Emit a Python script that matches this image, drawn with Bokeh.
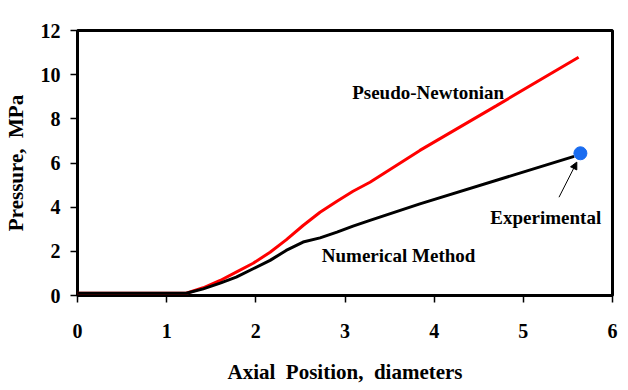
from bokeh.plotting import figure
from bokeh.models import Range1d, FixedTicker, Arrow, NormalHead, Label
from bokeh.embed import file_html
from bokeh.resources import INLINE

# Pseudo-Newtonian (red)
pn_x = [0.0, 1.22, 1.41, 1.60, 1.78, 1.97, 2.16, 2.34, 2.53, 2.72, 2.91, 3.09, 3.28, 3.84, 4.70, 5.62]
pn_y = [0.10, 0.10, 0.35, 0.68, 1.06, 1.46, 1.96, 2.52, 3.17, 3.77, 4.27, 4.72, 5.13, 6.57, 8.60, 10.79]

# Numerical method (black)
nm_x = [0.0, 1.22, 1.41, 1.60, 1.78, 1.97, 2.16, 2.34, 2.53, 2.72, 2.91, 3.09, 3.28, 3.84, 5.57]
nm_y = [0.10, 0.10, 0.30, 0.56, 0.83, 1.21, 1.59, 2.04, 2.42, 2.61, 2.87, 3.14, 3.40, 4.15, 6.30]

# Experimental point
ex_x = [5.64]
ex_y = [6.44]

x_ticks = [0, 1, 2, 3, 4, 5, 6]
y_ticks = [0, 2, 4, 6, 8, 10, 12]

FONT = "Liberation Serif"
NB = "\u00a0"

p = figure(width=620, height=386, output_backend="svg", toolbar_location=None,
           x_range=Range1d(0, 6), y_range=Range1d(0, 12),
           min_border_left=0, min_border_right=8, min_border_top=30, min_border_bottom=0)

p.xgrid.visible = False
p.ygrid.visible = False
p.outline_line_color = "black"
p.outline_line_width = 3
p.outline_line_alpha = 1

p.xaxis.ticker = FixedTicker(ticks=x_ticks)
p.yaxis.ticker = FixedTicker(ticks=y_ticks)
for ax in (p.xaxis, p.yaxis):
    ax.axis_line_color = None
    ax.major_tick_line_color = "black"
    ax.major_tick_line_width = 1.5
    ax.major_tick_out = 7
    ax.major_tick_in = 0
    ax.minor_tick_line_color = None
    ax.major_label_text_font = FONT
    ax.major_label_text_font_style = "bold"
    ax.major_label_text_font_size = "20px"
    ax.major_label_text_color = "black"
    ax.axis_label_text_font = FONT
    ax.axis_label_text_font_style = "bold"
    ax.axis_label_text_font_size = "21px"
    ax.axis_label_text_color = "black"

p.xaxis.axis_label = "Axial" + NB + " Position," + NB + " diameters"
p.yaxis.axis_label = "Pressure," + NB + " MPa"
p.xaxis.major_label_standoff = 21
p.xaxis.axis_label_standoff = 19
p.yaxis.major_label_standoff = 10
p.yaxis.axis_label_standoff = 10

p.line(pn_x, pn_y, line_color="#ff0000", line_width=3)
p.line(nm_x, nm_y, line_color="black", line_width=3)
p.scatter(ex_x, ex_y, size=13, fill_color="#1a6cf0", line_color="#1a6cf0")

p.add_layout(Arrow(end=NormalHead(size=7, fill_color="black", line_color="black", line_width=1),
                   x_start=5.40, y_start=4.45, x_end=5.60, y_end=6.04,
                   line_color="black", line_width=1))

for txt, x, y in [("Pseudo-Newtonian", 3.08, 9.21),
                  ("Numerical Method", 2.74, 1.81),
                  ("Experimental", 4.63, 3.55)]:
    p.add_layout(Label(x=x, y=y, text=txt, text_font=FONT, text_font_style="bold",
                       text_font_size="19px", text_color="black",
                       text_align="left", text_baseline="alphabetic"))

open("out.html", "w").write(file_html(p, INLINE))
